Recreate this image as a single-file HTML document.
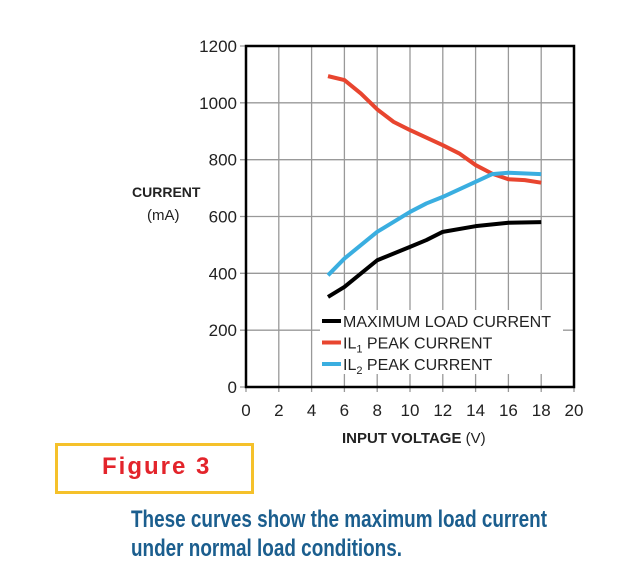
<!DOCTYPE html>
<html><head><meta charset="utf-8"><style>
body{margin:0;background:#fff;width:634px;height:587px;overflow:hidden;position:relative;font-family:"Liberation Sans",sans-serif}
.cap{position:absolute;left:131px;font-family:"Liberation Sans",sans-serif;font-weight:bold;font-size:24px;color:#1b5e8e;white-space:nowrap;transform-origin:0 0}
</style></head><body>
<svg width="634" height="587" style="position:absolute;left:0;top:0">
<g id="grid"></g><g id="series"></g><g id="axes"></g>
</svg>
<div style="position:absolute;left:55px;top:443px;width:193px;height:45px;border:3px solid #f5c12a"></div>
<div style="position:absolute;left:102px;top:453px;font-size:24px;font-weight:bold;color:#e3242b;letter-spacing:2px;font-family:'Liberation Sans',sans-serif">Figure 3</div>
<div class="cap" id="cap1" style="top:506px">These curves show the maximum load current</div>
<div class="cap" id="cap2" style="top:535px">under normal load conditions.</div>
<script>
const xVals=[5,6,8,10,11,12,14,16,18];
const loadCurrent=[317,352,446,493,517,546,566,578,580];
const il1X=[5,6,7,8,9,10,12,13,14,15,16,17,18];
const il1Peak=[1094,1080,1033,977,933,904,851,822,781,751,731,728,719];
const il2X=[5,6,8,10,11,12,14,15,16,18];
const il2Peak=[393,452,546,616,646,669,722,749,754,749];
const xTicks=[0,2,4,6,8,10,12,14,16,18,20];
const yTicks=[0,200,400,600,800,1000,1200];
const L=246,R=574,T=46,B=387;
const sx=v=>L+(R-L)*v/20, sy=v=>B-(B-T)*v/1200;
const NS="http://www.w3.org/2000/svg";
function mk(p,t,a){const e=document.createElementNS(NS,t);for(const k in a)e.setAttribute(k,a[k]);p.appendChild(e);return e;}
const g=document.getElementById('grid'),s=document.getElementById('series'),ax=document.getElementById('axes');
xTicks.forEach(v=>{const l=mk(g,'line',{x1:sx(v),x2:sx(v),y1:T,y2:B+5,stroke:'#999','stroke-width':1.3});


const t=mk(ax,'text',{x:sx(v),y:B+29,'text-anchor':'middle','font-size':17,fill:'#222'});t.textContent=v;

});
yTicks.forEach(v=>{const l=mk(g,'line',{x1:L-6,x2:R,y1:sy(v),y2:sy(v),stroke:'#999','stroke-width':1.3});


const t=mk(ax,'text',{x:237,y:sy(v)+6,'text-anchor':'end','font-size':17,fill:'#222'});t.textContent=v;

});
function line(xs,ys,c,n){const p=mk(s,'polyline',{points:xs.map((x,i)=>sx(x)+','+sy(ys[i])).join(' '),fill:'none',stroke:c,'stroke-width':4,'stroke-linejoin':'round'});

}
line(il1X,il1Peak,'#e8452f','il1-peak-line');
line(il2X,il2Peak,'#3aaee0','il2-peak-line');
line(xVals,loadCurrent,'#000','max-load-line');
const fr=mk(ax,'rect',{x:L,y:T,width:R-L,height:B-T,fill:'none',stroke:'#000','stroke-width':2.5});


const lg=mk(ax,'rect',{x:320,y:310,width:243,height:64,fill:'#fff'});


[['#000','MAXIMUM LOAD CURRENT',''],['#e8452f','IL','1'],['#3aaee0','IL','2']].forEach((e,i)=>{const y=321+i*21.5;
const l=mk(ax,'line',{x1:322,x2:341,y1:y,y2:y,stroke:e[0],'stroke-width':4});


const t=mk(ax,'text',{x:343,y:y+6,'font-size':16,fill:'#222'});


if(e[2]){t.appendChild(document.createTextNode('IL'));const ts=mk(t,'tspan',{'font-size':11,dy:4});ts.textContent=e[2];const t2=mk(t,'tspan',{dy:-4});t2.textContent=' PEAK CURRENT';}
else t.textContent=e[1];});
const c1=mk(ax,'text',{x:132,y:197,'font-size':14,'font-weight':'bold',fill:'#222'});c1.textContent='CURRENT';


const c2=mk(ax,'text',{x:147,y:220,'font-size':15,fill:'#222'});c2.textContent='(mA)';


const xt=mk(ax,'text',{x:342,y:443,'font-size':15,fill:'#222'});


const b=mk(xt,'tspan',{'font-weight':'bold'});b.textContent='INPUT VOLTAGE ';const u=mk(xt,'tspan',{});u.textContent='(V)';
[['cap1',416],['cap2',271]].forEach(([id,w])=>{const el=document.getElementById(id);const cw=el.getBoundingClientRect().width;el.style.transform='scaleX('+(w/cw)+')';});
</script>
</body></html>
